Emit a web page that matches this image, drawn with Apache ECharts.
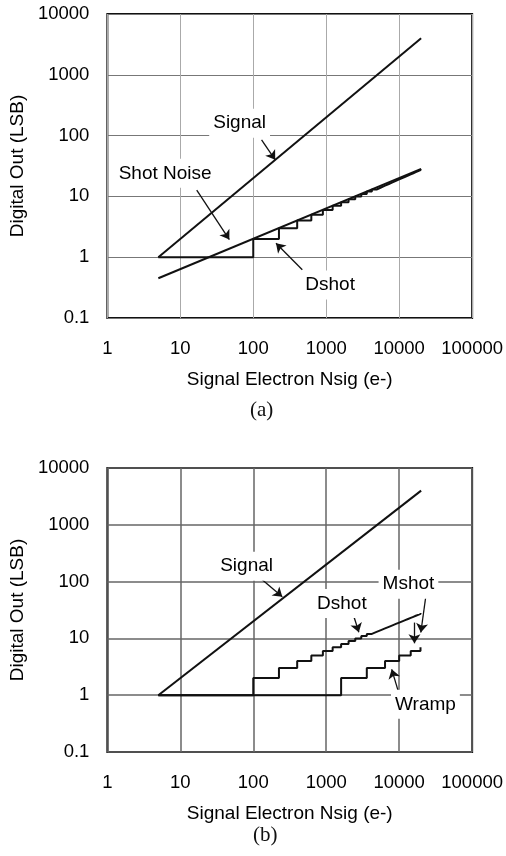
<html>
<head>
<meta charset="utf-8">
<script src="https://cdn.jsdelivr.net/npm/echarts@6/dist/echarts.min.js"></script>
<style>
  html, body { margin: 0; padding: 0; background: #fff; }
  #chart { width: 506px; height: 856px; }
</style>
</head>
<body>
<div id="chart"></div>
<script>
// ---- data ----
var signalN = [5, 20000];
var signalLSB = [1, 4000];

var shotN = [5, 20000];
var shotLSB = [0.45, 28.3];

// Dshot: digital shot noise, staircase edges
var dshotN = [5, 100, 225, 400, 625, 900, 1225, 1600, 2025, 2500, 3025, 3600, 4225, 4900,
              5625, 6400, 7225, 8100, 9025, 10000, 11025, 12100, 13225, 14400, 15625,
              16900, 18225, 19600, 20000];
var dshotLSB = [1, 2, 3, 4, 5, 6, 7, 8, 9, 10, 11, 12, 13, 14, 15, 16, 17, 18, 19, 20,
                21, 22, 23, 24, 25, 26, 27, 28, 28];

// Wramp staircase edges (panel b)
var wrampN = [5, 1600, 3600, 6400, 10000, 14400, 19600, 20000];
var wrampLSB = [1, 2, 3, 4, 5, 6, 7, 7];

var xTicks = [1, 10, 100, 1000, 10000, 100000];
var yTicks = [0.1, 1, 10, 100, 1000, 10000];

// annotation text: [label, N, LSB]
var notesA = [['Signal', 65, 160], ['Shot Noise', 6.2, 24], ['Dshot', 1130, 0.35]];
var notesB = [['Signal', 81, 187], ['Dshot', 1640, 41], ['Mshot', 13400, 90], ['Wramp', 22900, 0.69]];

// arrows: [fromN, fromLSB, toN, toLSB]
var arrowsA = [[130, 85, 200, 40], [16.8, 12.7, 47, 1.95], [470, 0.62, 205, 1.7]];
var arrowsB = [[129, 111, 250, 54], [2400, 24, 2800, 12.8], [16200, 19, 16200, 8.2],
               [9800, 1.13, 7900, 2.85]];
var curvedB = [[23600, 65, 19800, 12.7]];

function pairs(xs, ys) {
    return xs.map(function (x, i) { return [x, ys[i]]; });
}

var font = 'Liberation Sans, Arial, sans-serif';

function fmt(v) { return String(+(+v).toPrecision(6)); }

function makeX(gridIndex, splitColor, splitWidth, gap) {
    return {
        type: 'log', logBase: 10, gridIndex: gridIndex,
        min: xTicks[0], max: xTicks[xTicks.length - 1],
        name: 'Signal Electron Nsig (e-)', nameLocation: 'middle', nameGap: gap,
        nameTextStyle: { fontFamily: font, fontSize: 19, color: '#000' },
        axisLine: { show: false }, axisTick: { show: false },
        axisLabel: { fontFamily: font, fontSize: 18.5, color: '#000', margin: 21,
                     showMinLabel: true, showMaxLabel: true, formatter: fmt },
        splitLine: { show: true, lineStyle: { color: splitColor, width: splitWidth } }
    };
}

function makeY(gridIndex, splitColor, splitWidth) {
    return {
        type: 'log', logBase: 10, gridIndex: gridIndex,
        min: yTicks[0], max: yTicks[yTicks.length - 1],
        name: 'Digital Out (LSB)', nameLocation: 'middle', nameGap: 80,
        nameTextStyle: { fontFamily: font, fontSize: 19, color: '#000' },
        axisLine: { show: false }, axisTick: { show: false },
        axisLabel: { fontFamily: font, fontSize: 18.5, color: '#000', margin: 18,
                     showMinLabel: true, showMaxLabel: true, formatter: fmt },
        splitLine: { show: true, lineStyle: { color: splitColor, width: splitWidth } }
    };
}

function lineSeries(idx, data, step, width) {
    return {
        type: 'line', xAxisIndex: idx, yAxisIndex: idx, data: data,
        step: step || false, showSymbol: false, symbol: 'none', animation: false,
        lineStyle: { color: '#111', width: width || 2 }
    };
}

function notes(list) {
    return {
        symbol: 'circle', symbolSize: 1, itemStyle: { color: 'transparent' },
        label: { show: true, position: 'inside', fontFamily: font, fontSize: 19, color: '#000',
                 backgroundColor: '#fff', padding: [5, 4], formatter: '{b}' },
        data: list.map(function (n) { return { name: n[0], coord: [n[1], n[2]] }; })
    };
}

function arrows(list, curve) {
    return {
        silent: true, symbol: ['none', 'arrow'], symbolSize: 9, label: { show: false },
        data: list.map(function (a) {
            return [{ coord: [a[0], a[1]] }, { coord: [a[2], a[3]] }];
        }),
        lineStyle: { color: '#111', width: 1.3, type: 'solid', curveness: curve || 0 }
    };
}

var chart = echarts.init(document.getElementById('chart'));

var sigA = lineSeries(0, pairs(signalN, signalLSB));
sigA.markPoint = notes(notesA);
sigA.markLine = arrows(arrowsA);
var sigB = lineSeries(1, pairs(signalN, signalLSB));
sigB.markPoint = notes(notesB);
sigB.markLine = arrows(arrowsB);
var wrampB = lineSeries(1, pairs(wrampN, wrampLSB), 'end');
wrampB.markLine = arrows(curvedB, -0.6);

chart.setOption({
    animation: false,
    backgroundColor: '#fff',
    title: [
        { text: '(a)', left: 245, top: 395,
          textStyle: { fontFamily: 'Liberation Serif, Times New Roman, serif', fontSize: 21, fontWeight: 'normal', color: '#111' } },
        { text: '(b)', left: 248, top: 820,
          textStyle: { fontFamily: 'Liberation Serif, Times New Roman, serif', fontSize: 21, fontWeight: 'normal', color: '#111' } }
    ],
    grid: [
        { left: 107, top: 14, width: 367, height: 304, show: true, borderColor: '#111', borderWidth: 2 },
        { left: 107, top: 468, width: 368, height: 284, show: true, borderColor: '#111', borderWidth: 2 }
    ],
    xAxis: [makeX(0, '#aaa', 1, 52), makeX(1, '#666', 1.5, 52)],
    yAxis: [makeY(0, '#777', 1.2), makeY(1, '#666', 1.5)],
    series: [
        sigA,
        lineSeries(0, pairs(shotN, shotLSB)),
        lineSeries(0, pairs(dshotN, dshotLSB), 'end'),
        sigB,
        lineSeries(1, pairs(dshotN, dshotLSB), 'end'),
        wrampB
    ]
});
</script>
</body>
</html>
